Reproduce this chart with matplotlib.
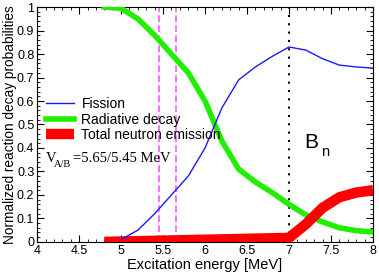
import numpy as np
import matplotlib
matplotlib.use("Agg")
import matplotlib.pyplot as plt
from matplotlib.ticker import MultipleLocator

plt.rcParams['font.family'] = ['Liberation Sans', 'DejaVu Sans']

# excitation energy grid [MeV]
e_fission = [5.0, 5.2, 5.4, 5.6, 5.8, 6.0, 6.2, 6.4, 6.6, 6.8, 7.0, 7.2, 7.4, 7.6, 7.8, 8.0]
fission = [0.01, 0.05, 0.12, 0.20, 0.28, 0.40, 0.57, 0.69, 0.745, 0.79, 0.83, 0.817, 0.78, 0.753, 0.745, 0.74]

e_gamma = [4.8, 5.0, 5.2, 5.4, 5.6, 5.8, 6.0, 6.2, 6.4, 6.6, 6.8, 7.0, 7.2, 7.4, 7.6, 7.8, 8.0]
radiative = [1.0, 0.995, 0.95, 0.88, 0.80, 0.72, 0.60, 0.43, 0.31, 0.255, 0.21, 0.16, 0.115, 0.085, 0.06, 0.048, 0.042]

e_neutron = [4.8, 7.0, 7.2, 7.4, 7.6, 7.8, 8.0]
neutron = [0.0, 0.017, 0.075, 0.145, 0.19, 0.21, 0.22]

barriers = [5.45, 5.65]
b_n = 7.0

fig = plt.figure(figsize=(3.79, 2.73), dpi=100)
ax = fig.add_axes([0.098, 0.114, 0.886, 0.86])

ax.plot(e_fission, fission, color="#1a1aff", lw=1.0, label="Fission", zorder=4)
ax.plot(e_gamma, radiative, color="#22ee00", lw=4.0, label="Radiative decay", zorder=3)
ax.plot(e_neutron, neutron, color="#ff0000", lw=7.5, label="Total neutron emission",
        solid_capstyle="butt", zorder=3)

for b in barriers:
    ax.axvline(b, color="#ff55ff", lw=1.2, ls=(0, (4, 2)), zorder=2)
ax.axvline(b_n, color="black", lw=1.5, ls=(0, (1, 3)), zorder=2)

ax.text(7.18, 0.4, "B", fontsize=15)
ax.text(7.38, 0.365, "n", fontsize=10.5)
ax.text(4.1, 0.34, "V", fontsize=10.5, family="Liberation Serif")
ax.text(4.2, 0.32, "A/B", fontsize=7.5, family="Liberation Serif")
ax.text(4.43, 0.34, "=5.65/5.45 MeV", fontsize=10.5, family="Liberation Serif")

ax.set_xlim(4, 8)
ax.set_ylim(0, 1)
ax.xaxis.set_minor_locator(MultipleLocator(0.1))
ax.yaxis.set_minor_locator(MultipleLocator(0.02))
ax.set_xticks(np.arange(4, 8.01, 0.5))
ax.set_xticklabels(["4", "4.5", "5", "5.5", "6", "6.5", "7", "7.5", "8"])
ax.set_yticks(np.arange(0, 1.001, 0.1))
ax.set_yticklabels(["0", "0.1", "0.2", "0.3", "0.4", "0.5", "0.6", "0.7", "0.8", "0.9", "1"])
ax.tick_params(which="both", direction="in", top=True, right=True, labelsize=9, pad=2)
ax.tick_params(which="major", length=5)
ax.tick_params(which="minor", length=2.5)

ax.set_xlabel("Excitation energy [MeV]", fontsize=10.5, labelpad=1)
ax.set_ylabel("Normalized reaction decay probabilities", fontsize=9.8, labelpad=0)

ax.legend(loc="upper left", bbox_to_anchor=(0.01, 0.64), frameon=False, fontsize=10,
          handlelength=2.0, handletextpad=0.55, labelspacing=0.1, borderaxespad=0.0)

fig.savefig("out.png", dpi=100)
